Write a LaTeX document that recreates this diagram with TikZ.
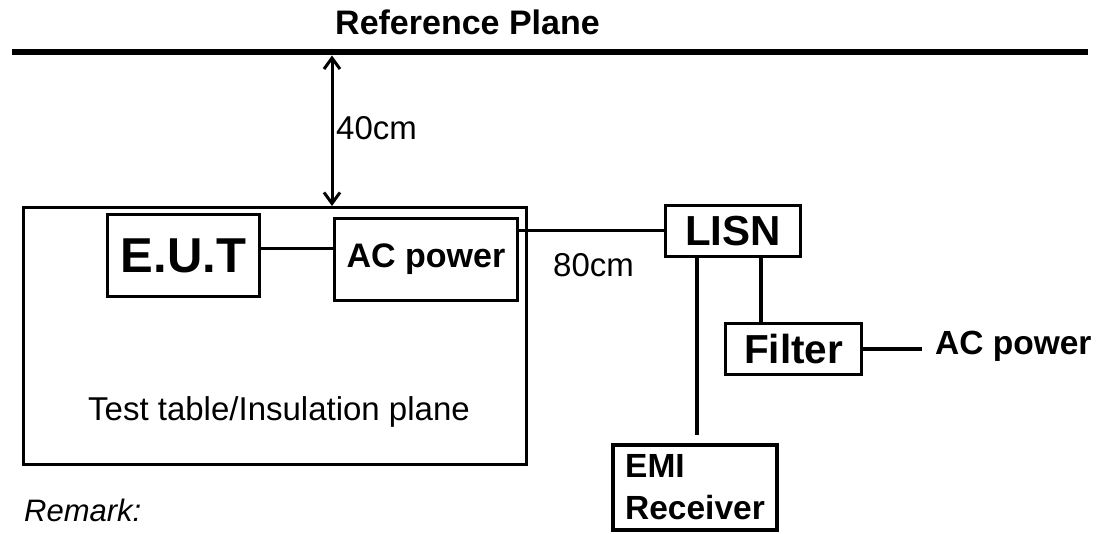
\documentclass[tikz,border=0pt]{standalone}
\usepackage{fontspec}
\setmainfont{Liberation Sans}
\usetikzlibrary{positioning,arrows.meta}

\tikzset{
  unit/.style={draw, line width=3pt, inner sep=0pt,
    font=\fontsize{34}{40}\selectfont\bfseries},
  wire/.style={line width=3pt},
  thickwire/.style={line width=4.5pt},
  dim/.style={inner sep=0pt, font=\fontsize{33}{40}\selectfont},
  barb/.style={{Straight Barb[length=11pt,width=16pt]}-{Straight Barb[length=11pt,width=16pt]}},
}

\begin{document}
\begin{tikzpicture}[x=1pt,y=1pt]
  \useasboundingbox (0,0) rectangle (1097,534);
  % reference plane
  \coordinate (planeL) at (12,481.5);
  \coordinate (planeR) at (1088,481.5);
  \draw[line width=6pt] (planeL) -- (planeR);
  \node[dim, font=\fontsize{34}{40}\selectfont\bfseries, anchor=base west] (plane) at (335,499) {Reference Plane};
  % test table
  \node[unit, minimum width=503pt, minimum height=257pt] (table) at (275,198) {};
  \node[dim, anchor=base west] (tabletext) at (88,113) {Test table/Insulation plane};
  \node[unit, minimum width=152pt, minimum height=82pt, font=\fontsize{49}{56}\selectfont\bfseries,
    below right=7pt and 84pt of table.north west] (eut) {E.U.T};
  \node[unit, minimum width=183pt, minimum height=82pt,
    below left=11pt and 9pt of table.north east] (acin) {AC power};
  % 40cm gap
  \coordinate (gap) at (332,478.5);
  \draw[wire, barb] (gap) -- (gap |- table.north);
  \node[dim, anchor=base west] (height) at (336,394) {40cm};
  % LISN and the rest
  \node[unit, minimum width=135pt, minimum height=51pt, font=\fontsize{42}{48}\selectfont\bfseries] (lisn) at (733,303) {LISN};
  \node[dim, anchor=base west] (length) at (553,257) {80cm};
  \node[unit, minimum width=136pt, minimum height=51pt, font=\fontsize{40.5}{46}\selectfont\bfseries,
    below right=64pt and 60pt of lisn.south west] (filter) {Filter};
  \node[unit, line width=4.5pt, minimum width=164pt, minimum height=85pt, align=left,
    font=\fontsize{33.5}{42}\selectfont\bfseries] (emi) at (695,46.5) {EMI\\Receiver};
  \node[dim, font=\fontsize{33.5}{40}\selectfont\bfseries, anchor=base west] (acout) at (935,179) {AC power};
  \node[dim, font=\fontsize{31}{36}\selectfont\itshape, anchor=base west] (remark) at (24,12) {Remark:};
  % wiring
  \draw[wire] ([yshift=7pt]eut.east) -- ([yshift=7pt]eut.east -| acin.west);
  \draw[wire] (acin.east |- lisn.west) -- (lisn.west);
  \draw[thickwire, shorten >=8pt] ([xshift=-36pt]lisn.south) -- ([xshift=-36pt]lisn.south |- emi.north);
  \draw[thickwire] ([xshift=28pt]lisn.south) -- ([xshift=28pt]lisn.south |- filter.north);
  \draw[thickwire, shorten >=13pt] (filter.east) -- (filter.east -| acout.west);
\end{tikzpicture}
\end{document}
